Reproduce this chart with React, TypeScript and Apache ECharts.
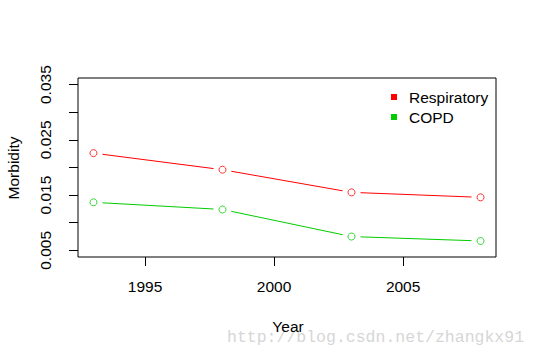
import React, { useEffect, useRef } from "react";
import * as echarts from "echarts";

const years = [1993, 1998, 2003, 2008];
const respiratory = [0.0226, 0.0196, 0.0155, 0.0146];
const copd = [0.0137, 0.0124, 0.0075, 0.0067];
const xTicks = [1995, 2000, 2005];
const yTicks = [0.005, 0.01, 0.015, 0.02, 0.025, 0.03, 0.035];
const yLabels = [0.005, 0.015, 0.025, 0.035];
const seriesNames = ["Respiratory", "COPD"];
const xTitle = "Year";
const yTitle = "Morbidity";
const watermark = "http://blog.csdn.net/zhangkx91";

const RED = "#FF0000";
const GREEN = "#00CD00";
const FONT = "Liberation Sans, Arial, sans-serif";
const GAP = 9;

export default function App() {
  const ref = useRef<HTMLDivElement>(null);
  useEffect(() => {
    if (!ref.current) return;
    const chart = echarts.init(ref.current, null, { renderer: "svg" });
    const pairs = (vals: number[]) => years.map((y, i) => [y, vals[i]]);
    const segments = (vals: number[]) =>
      years.slice(0, -1).map((y, i) => [y, vals[i], years[i + 1], vals[i + 1]]);
    // R type = "b": segments between points, with gaps around each point
    const lineSeries = (name: string, vals: number[], color: string) => ({
      name,
      type: "custom",
      data: segments(vals),
      encode: { x: [0, 2], y: [1, 3] },
      silent: true,
      z: 2,
      renderItem: (params: any, api: any) => {
        const a = api.coord([api.value(0), api.value(1)]);
        const b = api.coord([api.value(2), api.value(3)]);
        const dx = b[0] - a[0];
        const dy = b[1] - a[1];
        const len = Math.sqrt(dx * dx + dy * dy) || 1;
        const ux = dx / len;
        const uy = dy / len;
        return {
          type: "line",
          shape: {
            x1: a[0] + ux * GAP,
            y1: a[1] + uy * GAP,
            x2: b[0] - ux * GAP,
            y2: b[1] - uy * GAP,
          },
          style: { stroke: color, lineWidth: 1 },
        };
      },
    });
    const pointSeries = (vals: number[], color: string) => ({
      name: "_pt",
      type: "scatter",
      data: pairs(vals),
      symbol: "circle",
      symbolSize: 7,
      itemStyle: { color: "#ffffff", borderColor: color, borderWidth: 1 },
      z: 5,
      silent: true,
    });
    chart.setOption({
      animation: false,
      backgroundColor: "#ffffff",
      grid: {
        left: 78,
        top: 78,
        width: 418,
        height: 179,
        show: true,
        borderColor: "#000",
        borderWidth: 1,
        backgroundColor: "transparent",
      },
      legend: {
        data: [
          { name: seriesNames[0], itemStyle: { color: RED } },
          { name: seriesNames[1], itemStyle: { color: GREEN } },
        ],
        orient: "vertical",
        left: 386,
        top: 83,
        icon: "rect",
        itemWidth: 6,
        itemHeight: 6,
        itemGap: 2,
        textStyle: {
          fontFamily: FONT,
          fontSize: 15.5,
          color: "#000",
          padding: [0, 0, 0, 7],
          lineHeight: 18,
        },
      },
      xAxis: {
        type: "value",
        min: 1992.4,
        max: 2008.6,
        splitLine: { show: false },
        axisLine: { show: false },
        axisTick: {
          show: true,
          length: 9,
          customValues: xTicks,
          lineStyle: { color: "#000" },
        },
        axisLabel: {
          customValues: xTicks,
          margin: 21,
          fontFamily: FONT,
          fontSize: 15.5,
          color: "#000",
          formatter: (v: number) => String(v),
        },
      },
      yAxis: {
        type: "value",
        min: 0.0038,
        max: 0.0362,
        splitLine: { show: false },
        axisLine: { show: false },
        axisTick: {
          show: true,
          length: 9,
          customValues: yTicks,
          lineStyle: { color: "#000" },
        },
        axisLabel: {
          customValues: yLabels,
          rotate: 90,
          margin: 25,
          fontFamily: FONT,
          fontSize: 15.5,
          color: "#000",
          formatter: (v: number) => v.toFixed(3),
        },
      },
      graphic: [
        {
          type: "text",
          x: 288,
          y: 326.5,
          style: {
            text: xTitle,
            fontFamily: FONT,
            fontSize: 15.5,
            fill: "#000",
            textAlign: "center",
            textVerticalAlign: "middle",
          },
          z: 10,
        },
        {
          type: "text",
          x: 13,
          y: 168,
          rotation: Math.PI / 2,
          style: {
            text: yTitle,
            fontFamily: FONT,
            fontSize: 15.5,
            fill: "#000",
            textAlign: "center",
            textVerticalAlign: "middle",
          },
          z: 10,
        },
        {
          type: "text",
          x: 227,
          y: 337,
          style: {
            text: watermark,
            fontFamily: "Liberation Mono, monospace",
            fontSize: 16.5,
            fill: "#d6d6d6",
            textAlign: "left",
            textVerticalAlign: "middle",
          },
          z: 1,
        },
      ],
      series: [
        lineSeries(seriesNames[0], respiratory, RED),
        lineSeries(seriesNames[1], copd, GREEN),
        pointSeries(respiratory, RED),
        pointSeries(copd, GREEN),
      ],
    });
    return () => chart.dispose();
  }, []);
  return (
    <div
      ref={ref}
      style={{ position: "fixed", left: 0, top: 0, width: 537, height: 355 }}
    />
  );
}
